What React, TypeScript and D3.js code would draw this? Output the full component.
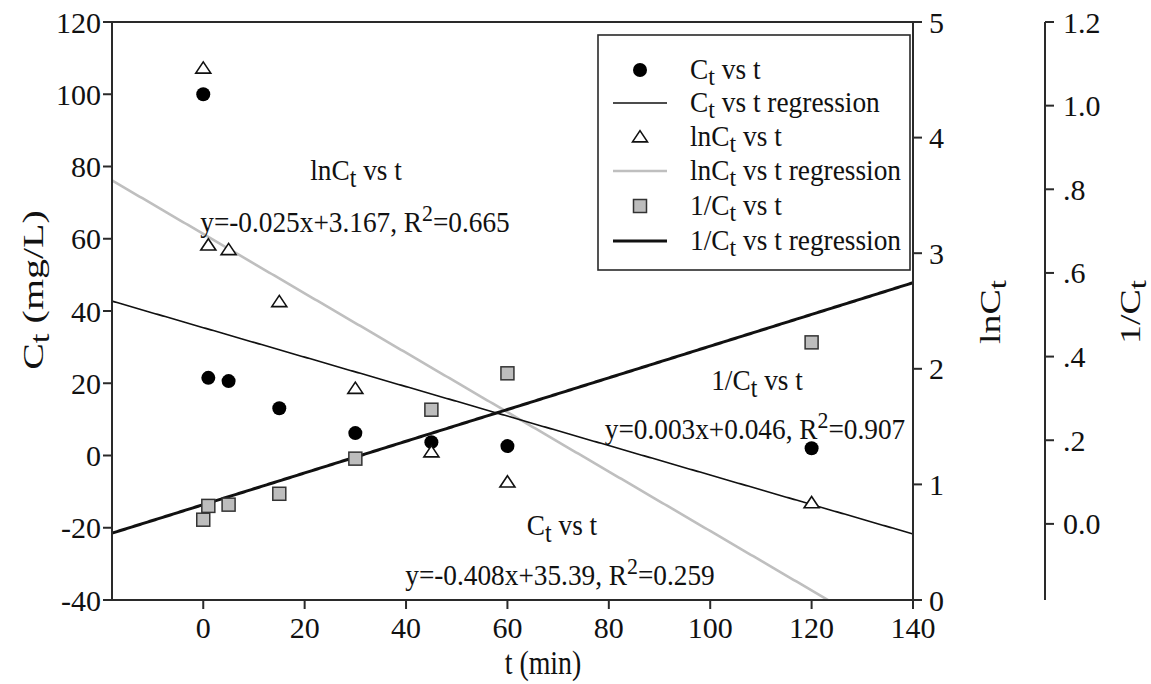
import React from "react";
import * as d3 from "d3";

const times = [0, 1, 5, 15, 30, 45, 60, 120];
const ctValues = [100, 21.5, 20.6, 13.1, 6.2, 3.7, 2.6, 2.0];
const lnCtValues = [4.6, 3.07, 3.03, 2.58, 1.83, 1.28, 1.02, 0.84];
const invCtValues = [0.01, 0.043, 0.046, 0.072, 0.156, 0.273, 0.36, 0.434];

// regression lines as drawn: [slope, intercept]
const ctFit = [-0.408, 35.39];
const lnFit = [-0.0257, 3.167];
const invFit = [0.00379, 0.046];

const xTicks = [0, 20, 40, 60, 80, 100, 120, 140];
const ctTicks = [-40, -20, 0, 20, 40, 60, 80, 100, 120];
const lnTicks = [0, 1, 2, 3, 4, 5];
const invTicks = [0, 0.2, 0.4, 0.6, 0.8, 1.0, 1.2];
const invTickLabels = ["0.0", ".2", ".4", ".6", ".8", "1.0", "1.2"];

const legendLabels = [
  ["C", " vs t"],
  ["C", " vs t regression"],
  ["lnC", " vs t"],
  ["lnC", " vs t regression"],
  ["1/C", " vs t"],
  ["1/C", " vs t regression"],
];

const W = 1151, H = 684;
const L = 112, R = 913, T = 22, B = 600;
const FONT = "Liberation Serif, Times New Roman, serif";
const TICKFS = 30;
const FS = 30;
const SX = 0.91;
const AX = "#2a2a2a";

const x = d3.scaleLinear().domain([-18, 140]).range([L, R]);
const yC = d3.scaleLinear().domain([-40, 120]).range([B, T]);
const yL = d3.scaleLinear().domain([0, 5]).range([B, T]);
const yI = d3.scaleLinear().domain([-0.182, 1.2]).range([B, T]);

function fitPath(fit: number[], ys: d3.ScaleLinear<number, number>) {
  const pts: [number, number][] = [];
  const xs = d3.range(-18, 140.01, 0.5);
  for (const t of xs) pts.push([t, fit[0] * t + fit[1]]);
  return d3.line<[number, number]>().x(d => x(d[0])).y(d => ys(d[1]))(pts) || "";
}

function Txt({ x, y, size, sx = 1, anchor = "start", rot = false, dy, children }: any) {
  const tr = rot ? `translate(${x},${y}) rotate(-90) scale(1,${sx})` : `translate(${x},${y}) scale(${sx},1)`;
  return (
    <g transform={tr}>
      <text x={0} y={0} dy={dy} textAnchor={anchor} fontFamily={FONT} fontSize={size} fill="#111">
        {children}
      </text>
    </g>
  );
}

function Sub({ base, sub, rest, shift = 7 }: { base: string; sub: string; rest: string; shift?: number }) {
  return (
    <>
      <tspan>{base}</tspan>
      <tspan dy={shift} fontSize="0.88em">{sub}</tspan>
      <tspan dy={-shift}>{rest}</tspan>
    </>
  );
}

function Sup({ pre, post }: { pre: string; post: string }) {
  return (
    <>
      <tspan>{pre}</tspan>
      <tspan dy={-11} fontSize="0.8em">2</tspan>
      <tspan dy={11}>{post}</tspan>
    </>
  );
}

function Circle({ cx, cy }: { cx: number; cy: number }) {
  return <circle cx={cx} cy={cy} r={7} fill="#000" />;
}
function Tri({ cx, cy }: { cx: number; cy: number }) {
  const s = 7.5;
  return (
    <path
      d={`M${cx},${cy - s * 0.85} L${cx + s},${cy + s * 0.65} L${cx - s},${cy + s * 0.65} Z`}
      fill="#fff"
      stroke="#111"
      strokeWidth={1.6}
    />
  );
}
function Sq({ cx, cy }: { cx: number; cy: number }) {
  const s = 6.5;
  return <rect x={cx - s} y={cy - s} width={2 * s} height={2 * s} fill="#bdbdbd" stroke="#333" strokeWidth={1.5} />;
}

export default function App() {
  const legendRows = [70, 103, 137, 171, 206, 241];
  const lgSym = 640, lgText = 690;
  return (
    <svg width={W} height={H} style={{ position: "absolute", left: 0, top: 0, background: "#fff" }}>
      <defs>
        <clipPath id="plot">
          <rect x={L} y={T} width={R - L} height={B - T} />
        </clipPath>
      </defs>
      <rect width={W} height={H} fill="#fff" />

      {/* regression lines */}
      <g clipPath="url(#plot)" fill="none">
        <path d={fitPath(lnFit, yL)} stroke="#bfbfbf" strokeWidth={2.6} />
        <path d={fitPath(ctFit, yC)} stroke="#111" strokeWidth={1.6} />
        <path d={fitPath(invFit, yI)} stroke="#111" strokeWidth={3} />
      </g>

      {/* points */}
      {times.map((t, i) => <Sq key={"s" + i} cx={x(t)} cy={yI(invCtValues[i])} />)}
      {times.map((t, i) => <Circle key={"c" + i} cx={x(t)} cy={yC(ctValues[i])} />)}
      {times.map((t, i) => <Tri key={"t" + i} cx={x(t)} cy={yL(lnCtValues[i])} />)}

      {/* frame */}
      <g stroke={AX} strokeWidth={2} fill="none">
        <line x1={L} x2={R} y1={T} y2={T} />
        <line x1={L} x2={R} y1={B} y2={B} />
        <line x1={L} x2={L} y1={T} y2={B} />
        <line x1={R} x2={R} y1={T} y2={B} />
        <line x1={1045} x2={1045} y1={T} y2={B} />
      </g>

      {/* left axis */}
      {ctTicks.map(v => (
        <g key={"lc" + v}>
          <line x1={L - 9} x2={L} y1={yC(v)} y2={yC(v)} stroke={AX} strokeWidth={2} />
          <Txt x={L - 11} y={yC(v)} dy="0.35em" anchor="end" size={TICKFS}>{v}</Txt>
        </g>
      ))}
      {/* right lnCt axis */}
      {lnTicks.map(v => (
        <g key={"ll" + v}>
          <line x1={R} x2={R + 9} y1={yL(v)} y2={yL(v)} stroke={AX} strokeWidth={2} />
          <Txt x={R + 16} y={yL(v)} dy="0.35em" size={TICKFS}>{v}</Txt>
        </g>
      ))}
      {/* far right 1/Ct axis */}
      {invTicks.map((v, i) => (
        <g key={"li" + v}>
          <line x1={1045} x2={1054} y1={yI(v)} y2={yI(v)} stroke={AX} strokeWidth={2} />
          <Txt x={1063} y={yI(v)} dy="0.35em" size={TICKFS}>{invTickLabels[i]}</Txt>
        </g>
      ))}
      {/* x axis */}
      {xTicks.map(v => (
        <g key={"x" + v}>
          <line x1={x(v)} x2={x(v)} y1={B} y2={B + 9} stroke={AX} strokeWidth={2} />
          <Txt x={x(v)} y={B + 27} dy="0.35em" anchor="middle" size={TICKFS}>{v}</Txt>
        </g>
      ))}

      {/* axis titles */}
      <Txt x={543} y={674} anchor="middle" size={34} sx={0.82}>t (min)</Txt>
      <Txt x={43} y={290} anchor="middle" size={40} sx={0.76} rot>
        <Sub base="C" sub="t" rest=" (mg/L)" shift={8} />
      </Txt>
      <Txt x={1000} y={312} anchor="middle" size={38} sx={0.76} rot>
        <Sub base="lnC" sub="t" rest="" shift={8} />
      </Txt>
      <Txt x={1140} y={312} anchor="middle" size={38} sx={0.76} rot>
        <Sub base="1/C" sub="t" rest="" shift={8} />
      </Txt>

      {/* annotations */}
      <Txt x={356} y={180} anchor="middle" size={FS} sx={SX}>
        <Sub base="lnC" sub="t" rest=" vs t" />
      </Txt>
      <Txt x={355} y={232} anchor="middle" size={FS} sx={SX}>
        <Sup pre="y=-0.025x+3.167, R" post="=0.665" />
      </Txt>
      <Txt x={757} y={390} anchor="middle" size={FS} sx={SX}>
        <Sub base="1/C" sub="t" rest=" vs t" />
      </Txt>
      <Txt x={755} y={439} anchor="middle" size={FS} sx={SX}>
        <Sup pre="y=0.003x+0.046, R" post="=0.907" />
      </Txt>
      <Txt x={562} y={535} anchor="middle" size={FS} sx={SX}>
        <Sub base="C" sub="t" rest=" vs t" />
      </Txt>
      <Txt x={560} y={585} anchor="middle" size={FS} sx={SX}>
        <Sup pre="y=-0.408x+35.39, R" post="=0.259" />
      </Txt>

      {/* legend */}
      <rect x={598} y={35} width={312} height={235} fill="#fff" stroke={AX} strokeWidth={1.6} />
      <Circle cx={lgSym} cy={legendRows[0]} />
      <line x1={613} x2={667} y1={legendRows[1]} y2={legendRows[1]} stroke="#111" strokeWidth={1.6} />
      <Tri cx={lgSym} cy={legendRows[2]} />
      <line x1={613} x2={667} y1={legendRows[3]} y2={legendRows[3]} stroke="#bfbfbf" strokeWidth={2.6} />
      <Sq cx={lgSym} cy={legendRows[4]} />
      <line x1={613} x2={667} y1={legendRows[5]} y2={legendRows[5]} stroke="#111" strokeWidth={3} />
      {legendLabels.map((r, i) => (
        <Txt key={"lg" + i} x={lgText} y={legendRows[i] + 9} size={28.5} sx={0.96}>
          <Sub base={r[0]} sub="t" rest={r[1]} shift={6} />
        </Txt>
      ))}
    </svg>
  );
}
